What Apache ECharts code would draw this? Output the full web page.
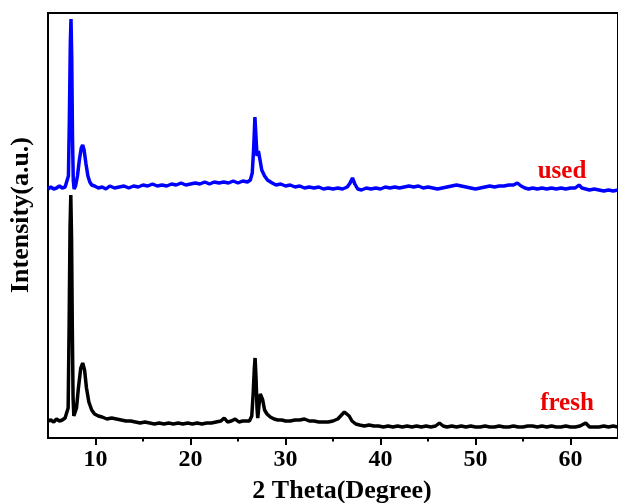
<!DOCTYPE html>
<html>
<head>
<meta charset="utf-8">
<script src="https://cdn.jsdelivr.net/npm/echarts@6/dist/echarts.min.js"></script>
<style>html,body{margin:0;padding:0;background:#fff;}#c{width:618px;height:503px;}</style>
</head>
<body>
<div id="c"></div>
<script>
// 2θ positions and intensities (arbitrary units) for the "used" sample
const usedTheta = [5.0,5.3,5.6,5.9,6.2,6.5,6.8,7.0,7.15,7.25,7.35,7.42,7.5,7.58,7.66,7.75,7.9,8.1,8.3,8.5,8.65,8.8,9.0,9.2,9.4,9.6,9.9,10.3,10.7,11.1,11.5,12.0,12.5,13.0,13.5,14.0,14.5,15.0,15.5,16.0,16.5,17.0,17.5,18.0,18.5,19.0,19.5,20.0,20.5,21.0,21.5,22.0,22.5,23.0,23.5,24.0,24.5,25.0,25.5,26.0,26.3,26.5,26.65,26.78,26.9,27.0,27.15,27.3,27.5,27.8,28.1,28.6,29.0,29.5,30.0,30.5,31.0,31.5,32.0,32.5,33.0,33.5,34.0,34.5,35.0,35.5,36.0,36.5,36.8,37.05,37.3,37.6,38.0,38.5,39.0,39.5,40.0,40.5,41.0,41.5,42.0,42.5,43.0,43.5,44.0,44.5,45.0,45.5,46.0,46.5,47.0,47.5,48.0,48.5,49.0,49.5,50.0,50.5,51.0,51.5,52.0,52.5,53.0,53.5,54.0,54.4,54.8,55.2,55.6,56.0,56.5,57.0,57.5,58.0,58.5,59.0,59.5,60.0,60.5,60.9,61.2,61.6,62.0,62.5,63.0,63.5,64.0,64.5,65.0];
const usedIntensity = [249,251,249,250,252,250,251,253,262,320,395,419,380,300,258,249,252,262,278,290,293,288,274,262,256,253,252,250,251,249,252,250,251,252,250,252,251,253,252,254,252,253,252,254,253,255,253,254,255,254,256,254,256,255,256,255,257,255,257,256,258,265,290,321,300,282,287,279,268,262,258,255,253,254,252,253,251,252,250,251,250,251,249,250,249,250,249,251,255,260,254,249,248,250,249,250,249,251,250,251,250,251,252,251,252,250,251,250,249,250,251,252,253,252,251,250,249,250,251,252,251,252,252,253,253,255,252,250,249,250,249,250,249,250,249,250,249,250,250,253,250,249,248,249,248,247,248,247,248];

// 2θ positions and intensities for the "fresh" sample
const freshTheta = [5.0,5.3,5.6,5.9,6.2,6.5,6.8,7.0,7.12,7.22,7.32,7.4,7.48,7.56,7.64,7.72,7.82,8.0,8.2,8.45,8.65,8.85,9.05,9.3,9.6,9.9,10.3,10.7,11.2,11.7,12.2,12.7,13.2,13.7,14.2,14.7,15.2,15.7,16.2,16.7,17.2,17.7,18.2,18.7,19.2,19.7,20.2,20.7,21.2,21.7,22.2,22.7,23.2,23.55,23.9,24.3,24.7,25.1,25.5,25.9,26.2,26.45,26.6,26.72,26.8,26.9,27.0,27.08,27.2,27.35,27.45,27.6,27.8,28.05,28.4,28.8,29.2,29.6,30.0,30.5,31.0,31.5,32.0,32.5,33.0,33.5,34.0,34.5,35.0,35.5,35.9,36.2,36.4,36.7,37.0,37.4,37.8,38.3,38.8,39.3,39.8,40.3,40.8,41.3,41.8,42.3,42.8,43.3,43.8,44.3,44.8,45.3,45.8,46.2,46.6,47.0,47.5,48.0,48.5,49.0,49.5,50.0,50.5,51.0,51.5,52.0,52.5,53.0,53.5,54.0,54.5,55.0,55.5,56.0,56.5,57.0,57.5,58.0,58.5,59.0,59.5,60.0,60.5,61.0,61.6,62.0,62.5,63.0,63.5,64.0,64.5,65.0];
const freshIntensity = [17,18,16,19,17,18,20,21,30,110,210,243,200,110,40,22,20,30,50,70,75,68,50,36,28,24,22,21,19,20,19,18,17,17,16,15,16,15,14,15,14,15,14,15,14,15,14,15,14,15,15,16,17,20,16,17,19,16,17,17,17,22,45,70,80,60,30,20,32,44,46,38,28,24,21,19,18,18,17,17,18,18,19,17,17,16,16,16,17,19,23,26,26,22,17,14,13,12,13,12,12,11,12,11,12,11,12,11,12,11,12,11,12,15,12,11,12,11,12,11,12,11,11,12,11,11,12,11,11,12,11,11,12,12,11,12,11,12,11,11,12,11,11,12,15,11,11,11,12,11,12,11];

const xMajorTicks = [10, 20, 30, 40, 50, 60];
const xMinorTicks = [15, 25, 35, 45, 55];
const xTitle = '2 Theta(Degree)';
const yTitle = 'Intensity(a.u.)';
const seriesNames = ['used', 'fresh'];

const FONT = 'Liberation Serif';
const zip = (xs, ys) => xs.map((x, i) => [x, ys[i]]);

const chart = echarts.init(document.getElementById('c'), null, {renderer: 'canvas'});
chart.setOption({
  animation: false,
  backgroundColor: '#fff',
  grid: {left: 48, top: 13, right: -8, bottom: 65, show: true, borderColor: '#000', borderWidth: 2, containLabel: false},
  xAxis: [{
    type: 'value', min: 5, max: 65,
    axisLine: {show: true, lineStyle: {color: '#000', width: 2}},
    axisTick: {show: true, inside: false, length: 7, customValues: xMajorTicks, lineStyle: {color: '#000', width: 2}},
    axisLabel: {show: true, customValues: xMajorTicks, margin: 10, color: '#000', fontFamily: FONT, fontWeight: 'bold', fontSize: 24},
    splitLine: {show: false}
  }, {
    type: 'value', min: 5, max: 65, position: 'bottom',
    axisLine: {show: false},
    axisTick: {show: true, inside: false, length: 3.5, customValues: xMinorTicks, lineStyle: {color: '#000', width: 2}},
    axisLabel: {show: false},
    splitLine: {show: false}
  }],
  yAxis: {
    type: 'value', min: 0, max: 425,
    axisLine: {show: true, lineStyle: {color: '#000', width: 2}},
    axisTick: {show: false}, axisLabel: {show: false}, splitLine: {show: false}
  },
  series: [{
    name: seriesNames[0], type: 'line', data: zip(usedTheta, usedIntensity), showSymbol: false,
    lineStyle: {color: '#0000ff', width: 3.5}, itemStyle: {color: '#0000ff'}
  }, {
    name: seriesNames[1], type: 'line', data: zip(freshTheta, freshIntensity), showSymbol: false,
    lineStyle: {color: '#000', width: 3.5}, itemStyle: {color: '#000'}
  }],
  graphic: [
    {type: 'text', x: 562, y: 172, style: {text: seriesNames[0], fill: '#ee0000', font: 'bold 25px "Liberation Serif"', align: 'center', verticalAlign: 'middle'}},
    {type: 'text', x: 567, y: 404, style: {text: seriesNames[1], fill: '#ee0000', font: 'bold 25px "Liberation Serif"', align: 'center', verticalAlign: 'middle'}},
    {type: 'text', x: 342, y: 491, style: {text: xTitle, fill: '#000', font: 'bold 26px "Liberation Serif"', align: 'center', verticalAlign: 'middle'}},
    {type: 'text', x: 21, y: 215, rotation: Math.PI / 2, style: {text: yTitle, fill: '#000', font: 'bold 26px "Liberation Serif"', align: 'center', verticalAlign: 'middle'}}
  ]
});
</script>
</body>
</html>
